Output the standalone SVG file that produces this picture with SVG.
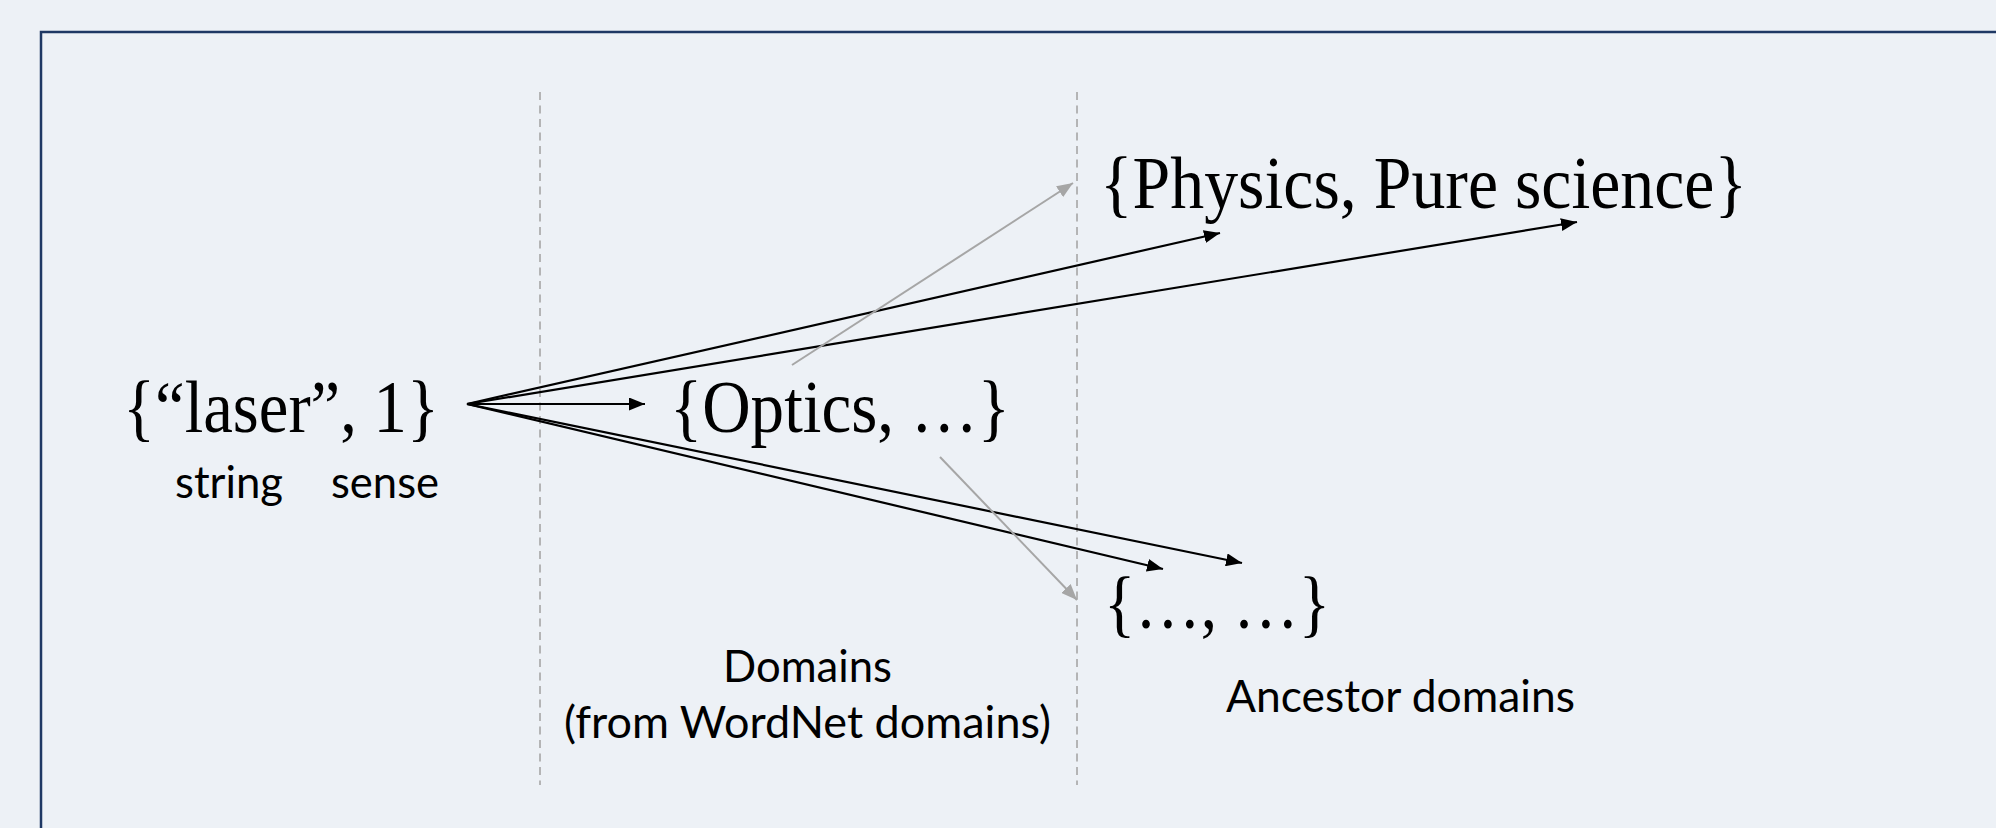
<svg xmlns="http://www.w3.org/2000/svg" width="1996" height="828" viewBox="0 0 1996 828">
  <style>
    .set { font-family: "Liberation Serif", "Times New Roman", serif; font-size: 74px; fill: #000; }
    .note { font-family: Lato, "Open Sans", sans-serif; font-size: 45px; fill: #000; }
    .guide { stroke: #a6a6a6; stroke-width: 1.6; stroke-dasharray: 8 5.5; fill: none; }
    .edge { stroke: #000; stroke-width: 2.2; fill: none; marker-end: url(#headBlack); }
    .edge-gray { stroke: #a6a6a6; stroke-width: 2; fill: none; marker-end: url(#headGray); }
  </style>
  <defs>
    <marker id="headBlack" markerUnits="userSpaceOnUse" markerWidth="16" markerHeight="13" refX="16" refY="6.5" orient="auto">
      <path d="M0,0 L16,6.5 L0,13 z" fill="#000"/>
    </marker>
    <marker id="headGray" markerUnits="userSpaceOnUse" markerWidth="16" markerHeight="13" refX="16" refY="6.5" orient="auto">
      <path d="M0,0 L16,6.5 L0,13 z" fill="#a6a6a6"/>
    </marker>
  </defs>

  <!-- page and frame -->
  <rect x="0" y="0" width="1996" height="828" fill="#edf1f6"/>
  <rect x="41" y="32" width="2000" height="900" fill="#edf1f6" stroke="#1f3864" stroke-width="2.5"/>

  <!-- column separators -->
  <g id="separators">
    <line class="guide" x1="540" y1="92" x2="540" y2="785"/>
    <line class="guide" x1="1077" y1="92" x2="1077" y2="785"/>
  </g>

  <!-- connectors -->
  <g id="connectors">
    <line class="edge" x1="467" y1="404" x2="645" y2="404"/>
    <line class="edge" x1="467" y1="404" x2="1220" y2="233"/>
    <line class="edge" x1="467" y1="404" x2="1577" y2="222"/>
    <line class="edge" x1="467" y1="404" x2="1163" y2="569"/>
    <line class="edge" x1="467" y1="404" x2="1242" y2="563"/>
    <line class="edge-gray" x1="792" y1="365" x2="1073" y2="183"/>
    <line class="edge-gray" x1="940" y1="457" x2="1077" y2="600"/>
  </g>

  <!-- input word sense -->
  <g id="node-laser">
    <text class="set" x="123" y="432" font-size="76" textLength="316" lengthAdjust="spacingAndGlyphs">{“laser”, 1}</text>
    <text class="note" x="175" y="498" textLength="108" lengthAdjust="spacingAndGlyphs">string</text>
    <text class="note" x="331" y="498" textLength="108" lengthAdjust="spacingAndGlyphs">sense</text>
  </g>

  <!-- direct domains -->
  <g id="node-optics">
    <text class="set" x="670" y="432" textLength="340" lengthAdjust="spacingAndGlyphs">{Optics, …}</text>
  </g>

  <!-- ancestor domains -->
  <g id="node-physics">
    <text class="set" x="1100" y="208" textLength="647" lengthAdjust="spacingAndGlyphs">{Physics, Pure science}</text>
  </g>
  <g id="node-ancestors">
    <text class="set" x="1104" y="628" textLength="226" lengthAdjust="spacingAndGlyphs">{…, …}</text>
  </g>

  <!-- column captions -->
  <g id="caption-domains">
    <text class="note" x="723" y="682" textLength="169" lengthAdjust="spacingAndGlyphs">Domains</text>
    <text class="note" x="564" y="738" textLength="487" lengthAdjust="spacingAndGlyphs">(from WordNet domains)</text>
  </g>
  <g id="caption-ancestors">
    <text class="note" x="1226" y="712" textLength="349" lengthAdjust="spacingAndGlyphs">Ancestor domains</text>
  </g>
</svg>
